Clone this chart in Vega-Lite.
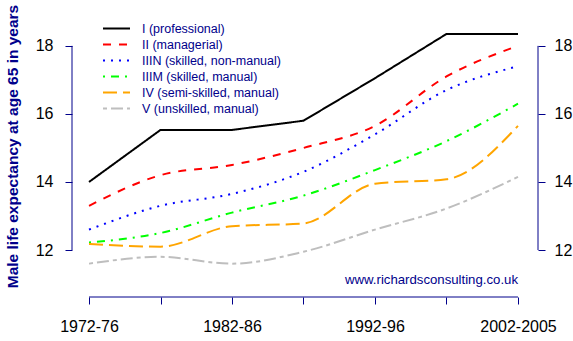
{
  "$schema": "https://vega.github.io/schema/vega-lite/v6.json",
  "width": 466,
  "height": 277,
  "autosize": "none",
  "padding": {"left": 72, "top": 20, "right": 35, "bottom": 44},
  "background": "white",
  "config": {
    "view": {"stroke": null},
    "font": "Liberation Sans",
    "axis": {"grid": false, "domain": false, "tickColor": "#00008B", "tickSize": 7, "labelFont": "Liberation Sans", "labelFontSize": 16, "labelColor": "black", "labelFontWeight": "normal"}
  },
  "datasets": {
    "le": [
      {"i": 0, "period": "1972-76", "cls": "I (professional)", "v": 14.0},
      {"i": 1, "period": "1977-81", "cls": "I (professional)", "v": 15.53},
      {"i": 2, "period": "1982-86", "cls": "I (professional)", "v": 15.53},
      {"i": 3, "period": "1987-91", "cls": "I (professional)", "v": 15.8},
      {"i": 4, "period": "1992-96", "cls": "I (professional)", "v": 17.05},
      {"i": 5, "period": "1997-2001", "cls": "I (professional)", "v": 18.35},
      {"i": 6, "period": "2002-2005", "cls": "I (professional)", "v": 18.35},
      {"i": 0, "period": "1972-76", "cls": "II (managerial)", "v": 13.3},
      {"i": 1, "period": "1977-81", "cls": "II (managerial)", "v": 14.2},
      {"i": 2, "period": "1982-86", "cls": "II (managerial)", "v": 14.5},
      {"i": 3, "period": "1987-91", "cls": "II (managerial)", "v": 15.0},
      {"i": 4, "period": "1992-96", "cls": "II (managerial)", "v": 15.65},
      {"i": 5, "period": "1997-2001", "cls": "II (managerial)", "v": 17.1},
      {"i": 6, "period": "2002-2005", "cls": "II (managerial)", "v": 18.0},
      {"i": 0, "period": "1972-76", "cls": "IIIN (skilled, non-manual)", "v": 12.6},
      {"i": 1, "period": "1977-81", "cls": "IIIN (skilled, non-manual)", "v": 13.3},
      {"i": 2, "period": "1982-86", "cls": "IIIN (skilled, non-manual)", "v": 13.65},
      {"i": 3, "period": "1987-91", "cls": "IIIN (skilled, non-manual)", "v": 14.3},
      {"i": 4, "period": "1992-96", "cls": "IIIN (skilled, non-manual)", "v": 15.4},
      {"i": 5, "period": "1997-2001", "cls": "IIIN (skilled, non-manual)", "v": 16.7},
      {"i": 6, "period": "2002-2005", "cls": "IIIN (skilled, non-manual)", "v": 17.4},
      {"i": 0, "period": "1972-76", "cls": "IIIM (skilled, manual)", "v": 12.22},
      {"i": 1, "period": "1977-81", "cls": "IIIM (skilled, manual)", "v": 12.5},
      {"i": 2, "period": "1982-86", "cls": "IIIM (skilled, manual)", "v": 13.1},
      {"i": 3, "period": "1987-91", "cls": "IIIM (skilled, manual)", "v": 13.6},
      {"i": 4, "period": "1992-96", "cls": "IIIM (skilled, manual)", "v": 14.35},
      {"i": 5, "period": "1997-2001", "cls": "IIIM (skilled, manual)", "v": 15.2},
      {"i": 6, "period": "2002-2005", "cls": "IIIM (skilled, manual)", "v": 16.3},
      {"i": 0, "period": "1972-76", "cls": "IV (semi-skilled, manual)", "v": 12.18},
      {"i": 1, "period": "1977-81", "cls": "IV (semi-skilled, manual)", "v": 12.1},
      {"i": 2, "period": "1982-86", "cls": "IV (semi-skilled, manual)", "v": 12.7},
      {"i": 3, "period": "1987-91", "cls": "IV (semi-skilled, manual)", "v": 12.78},
      {"i": 4, "period": "1992-96", "cls": "IV (semi-skilled, manual)", "v": 13.95},
      {"i": 5, "period": "1997-2001", "cls": "IV (semi-skilled, manual)", "v": 14.08},
      {"i": 6, "period": "2002-2005", "cls": "IV (semi-skilled, manual)", "v": 15.65},
      {"i": 0, "period": "1972-76", "cls": "V (unskilled, manual)", "v": 11.6},
      {"i": 1, "period": "1977-81", "cls": "V (unskilled, manual)", "v": 11.8},
      {"i": 2, "period": "1982-86", "cls": "V (unskilled, manual)", "v": 11.6},
      {"i": 3, "period": "1987-91", "cls": "V (unskilled, manual)", "v": 11.95},
      {"i": 4, "period": "1992-96", "cls": "V (unskilled, manual)", "v": 12.6},
      {"i": 5, "period": "1997-2001", "cls": "V (unskilled, manual)", "v": 13.22},
      {"i": 6, "period": "2002-2005", "cls": "V (unskilled, manual)", "v": 14.15}
    ]
  },
  "layer": [
    {
      "data": {"name": "le"},
      "transform": [{"filter": "datum.cls !== 'I (professional)'"}],
      "mark": {"type": "line", "interpolate": "monotone", "strokeWidth": 2},
      "encoding": {
        "x": {"field": "i", "type": "quantitative", "scale": {"domain": [-0.238, 6.28], "nice": false, "zero": false},
          "axis": {"values": [0, 1, 2, 3, 4, 5, 6], "title": null, "labelPadding": 14,
            "labelExpr": "datum.value == 0 ? '1972-76' : datum.value == 2 ? '1982-86' : datum.value == 4 ? '1992-96' : datum.value == 6 ? '2002-2005' : ''"}},
        "y": {"field": "v", "type": "quantitative", "scale": {"domain": [10.62, 18.76], "nice": false, "zero": false},
          "axis": {"orient": "left", "values": [12, 14, 16, 18], "labelPadding": 12,
            "title": "Male life expectancy at age 65 in years", "titleColor": "#00008B", "titleFont": "Liberation Sans", "titleFontSize": 15.5, "titleFontWeight": "bold", "titleX": -55, "titleY": 126, "titleAngle": -90, "titleBaseline": "alphabetic", "titleAlign": "center"}},
        "color": {"field": "cls", "type": "nominal", "title": null,
          "scale": {"domain": ["I (professional)", "II (managerial)", "IIIN (skilled, non-manual)", "IIIM (skilled, manual)", "IV (semi-skilled, manual)", "V (unskilled, manual)"],
                    "range": ["#000000", "#FF0000", "#0000FF", "#00FF00", "#FFA500", "#BEBEBE"]},
          "legend": {"orient": "none", "legendX": 30, "legendY": 1, "symbolType": "stroke", "symbolSize": 729, "symbolStrokeWidth": 2, "clipHeight": 15.2, "labelFont": "Liberation Sans", "labelFontSize": 12.5, "labelColor": "#00008B", "labelOffset": 11, "rowPadding": 0, "padding": 0}},
        "strokeDash": {"field": "cls", "type": "nominal", "title": null,
          "scale": {"domain": ["I (professional)", "II (managerial)", "IIIN (skilled, non-manual)", "IIIM (skilled, manual)", "IV (semi-skilled, manual)", "V (unskilled, manual)"],
                    "range": [[1, 0], [8, 8], [2, 6], [2, 6, 8, 6], [14, 6], [4, 4, 12, 4]]}}
      }
    },
    {
      "data": {"name": "le"},
      "transform": [{"filter": "datum.cls === 'I (professional)'"}],
      "mark": {"type": "line", "interpolate": "linear", "strokeWidth": 2},
      "encoding": {
        "x": {"field": "i", "type": "quantitative"},
        "y": {"field": "v", "type": "quantitative", "axis": {"orient": "right", "values": [12, 14, 16, 18], "title": null, "labelPadding": 9}},
        "color": {"field": "cls", "type": "nominal"},
        "strokeDash": {"field": "cls", "type": "nominal"}
      }
    },
    {
      "data": {"values": [{}]},
      "mark": {"type": "rule", "color": "#00008B", "strokeWidth": 1},
      "encoding": {"x": {"datum": -0.238}, "y": {"datum": 12, "axis": null}, "y2": {"datum": 18}}
    },
    {
      "data": {"values": [{}]},
      "mark": {"type": "rule", "color": "#00008B", "strokeWidth": 1},
      "encoding": {"x": {"datum": 6.28}, "y": {"datum": 12, "axis": null}, "y2": {"datum": 18}}
    },
    {
      "data": {"values": [{}]},
      "mark": {"type": "rule", "color": "#00008B", "strokeWidth": 1},
      "encoding": {"x": {"datum": 0}, "x2": {"datum": 6}, "y": {"datum": 10.62, "axis": null}}
    },
    {
      "data": {"values": [{}]},
      "mark": {"type": "text", "text": "www.richardsconsulting.co.uk", "align": "right", "baseline": "alphabetic", "color": "#00008B", "font": "Liberation Sans", "fontSize": 13.2},
      "encoding": {"x": {"datum": 6}, "y": {"datum": 11.0, "axis": null}}
    }
  ],
  "resolve": {"axis": {"y": "independent"}}
}
